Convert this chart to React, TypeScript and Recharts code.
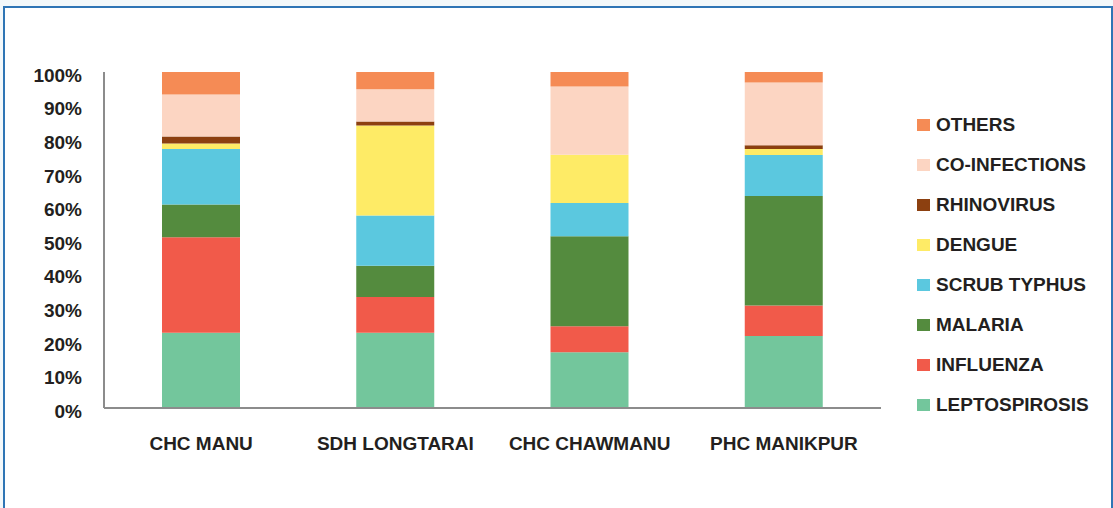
import React from "react";
import { BarChart, Bar, XAxis, YAxis } from "recharts";

// sites on the x axis
const sites = ["CHC MANU", "SDH LONGTARAI", "CHC CHAWMANU", "PHC MANIKPUR"];

// share of cases (%) per site, bottom to top of each stack
const leptospirosis = [22.4, 22.4, 16.6, 21.4];
const influenza = [28.4, 10.6, 7.7, 9.1];
const malaria = [9.8, 9.3, 26.8, 32.6];
const scrubTyphus = [16.5, 15.0, 9.9, 12.2];
const dengue = [1.6, 26.8, 14.4, 1.8];
const rhinovirus = [2.1, 1.2, 0, 1.1];
const coInfections = [12.5, 9.6, 20.3, 18.7];
const others = [6.7, 5.1, 4.3, 3.1];

const yTicks = [0, 10, 20, 30, 40, 50, 60, 70, 80, 90, 100];

const series = [
  { key: "LEPTOSPIROSIS", values: leptospirosis, color: "#73c69c" },
  { key: "INFLUENZA", values: influenza, color: "#f15a4a" },
  { key: "MALARIA", values: malaria, color: "#548b3e" },
  { key: "SCRUB TYPHUS", values: scrubTyphus, color: "#5bc8df" },
  { key: "DENGUE", values: dengue, color: "#feeb66" },
  { key: "RHINOVIRUS", values: rhinovirus, color: "#8c4010" },
  { key: "CO-INFECTIONS", values: coInfections, color: "#fcd5c2" },
  { key: "OTHERS", values: others, color: "#f58b55" },
];

const data = sites.map((site, i) => {
  const row: Record<string, string | number> = { site };
  series.forEach((s) => (row[s.key] = s.values[i]));
  return row;
});

const FONT = '"Liberation Sans", Arial, sans-serif';
const TEXT = "#231f20";

// legend: top entry is the top of the stack
function LegendBox() {
  return (
    <div style={{ position: "absolute", left: 917, top: 105, fontFamily: FONT }}>
      {[...series].reverse().map((s) => (
        <div key={s.key} style={{ height: 40, display: "flex", alignItems: "center" }}>
          <div style={{ width: 13, height: 12, background: s.color, marginRight: 6 }} />
          <span style={{ fontSize: 19, fontWeight: 700, color: TEXT, whiteSpace: "nowrap" }}>{s.key}</span>
        </div>
      ))}
    </div>
  );
}

export default function App() {
  return (
    <div style={{ position: "fixed", left: 0, top: 0, width: 1113, height: 508, background: "#f3f8fa", overflow: "hidden" }}>
      {/* framed white panel */}
      <div
        style={{
          position: "absolute",
          left: 3,
          top: 6,
          width: 1106,
          height: 520,
          background: "#fff",
          border: "2px solid #2f75b5",
        }}
      />
      <div style={{ position: "absolute", left: 0, top: 0 }}>
        <BarChart
          width={1113}
          height={508}
          data={data}
          margin={{ top: 72, right: 232, left: 0, bottom: 40 }}
        >
          <XAxis
            dataKey="site"
            height={60}
            tickLine={false}
            tickSize={0}
            tickMargin={29}
            axisLine={{ stroke: "#8c8c8c", strokeWidth: 2 }}
            tick={{ fill: TEXT, fontSize: 19, fontWeight: 700, fontFamily: FONT }}
          />
          <YAxis
            width={104}
            domain={[0, 100]}
            ticks={yTicks}
            interval={0}
            tickLine={false}
            tickSize={0}
            tickMargin={22}
            tickFormatter={(v: number) => `${v}%`}
            axisLine={{ stroke: "#8c8c8c", strokeWidth: 2 }}
            tick={{ fill: TEXT, fontSize: 19, fontWeight: 700, fontFamily: FONT, dy: 3 }}
          />
          {series.map((s) => (
            <Bar
              key={s.key}
              dataKey={s.key}
              stackId="a"
              fill={s.color}
              barSize={78}
              isAnimationActive={false}
            />
          ))}
        </BarChart>
      </div>
      <LegendBox />
    </div>
  );
}
